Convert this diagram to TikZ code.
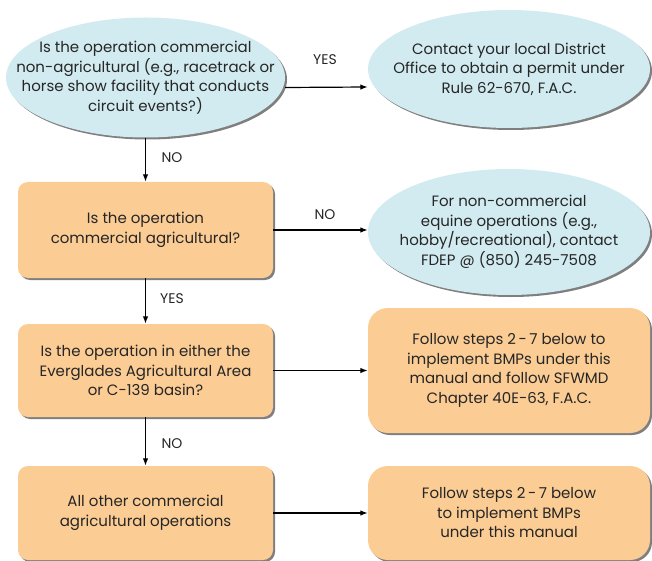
\documentclass[tikz,border=0pt]{standalone}
\usepackage{fontspec}
\setmainfont{Poppins}
\usetikzlibrary{shapes.geometric,shadows,arrows.meta}
\definecolor{eblue}{HTML}{D2EBF0}
\definecolor{borange}{HTML}{FBCC94}
\definecolor{shadowgray}{HTML}{7F7F7F}
\tikzset{
  shad/.style={drop shadow={shadow xshift=2pt,shadow yshift=-2pt,fill=shadowgray,opacity=1}},
  txt/.style={font=\fontsize{15}{19.5}\selectfont,text=black!85,align=center,inner sep=0pt},
  oval/.style={ellipse,fill=eblue,shad,inner sep=0pt},
  qbox/.style={rectangle,rounded corners=10pt,fill=borange,shad,txt,minimum width=255pt},
  abox/.style={rectangle,rounded corners=20pt,fill=borange,shad,txt,minimum width=282pt},
  arr/.style={-{Latex[length=7.5pt,width=5.5pt]},line width=1.2pt},
  lab/.style={font=\fontsize{14}{16}\selectfont,text=black!85}
}
\begin{document}
\begin{tikzpicture}[x=1pt,y=-1pt]
\useasboundingbox (0,0) rectangle (652,561);
\node[oval,minimum width=279pt,minimum height=120pt,label={[txt]center:{Is the operation commercial\\non-agricultural (e.g., racetrack or\\horse show facility that conducts\\circuit events?)}}] (e1) at (145.5,77.5) {};
\node[oval,minimum width=282pt,minimum height=118pt,label={[txt]center:{Contact your local District\\Office to obtain a permit under\\Rule 62-670, F.A.C.}}] (e2) at (509,69) {};
\node[qbox,minimum height=96pt] (b2) at (145.5,230) {Is the operation\\commercial agricultural?};
\node[oval,minimum width=282pt,minimum height=126pt,label={[txt]center:{For non-commercial\\equine operations (e.g.,\\hobby/recreational), contact\\FDEP @ (850) 245-7508}}] (e3) at (509,232) {};
\node[qbox,minimum height=93pt] (b3) at (145.5,370.5) {Is the operation in either the\\Everglades Agricultural Area\\or C-139 basin?};
\node[abox,minimum height=125pt] (b4) at (509,370.5) {Follow steps 2\,-\,7 below to\\implement BMPs under this\\manual and follow SFWMD\\Chapter 40E-63, F.A.C.};
\node[qbox,minimum height=94pt] (b5) at (145.5,513) {All other commercial\\agricultural operations};
\node[abox,minimum height=94pt] (b6) at (509,513) {Follow steps 2\,-\,7 below\\to implement BMPs\\under this manual};
\draw[arr] ([yshift=-10pt]e1.east) -- ([yshift=-18pt]e2.west);
\draw[arr] (e1.south) -- (b2.north);
\draw[arr] (b2.east) -- (b2.east -| e3.west);
\draw[arr] (b2.south) -- (b3.north);
\draw[arr] (b3.east) -- (b4.west);
\draw[arr] (b3.south) -- (b5.north);
\draw[arr] (b5.east) -- (b6.west);
\node[lab] (l1) at (325,60) {YES};
\node[lab] (l2) at (172,158) {NO};
\node[lab] (l3) at (325,215) {NO};
\node[lab] (l4) at (172,299) {YES};
\node[lab] (l5) at (172,444) {NO};
\end{tikzpicture}
\end{document}
